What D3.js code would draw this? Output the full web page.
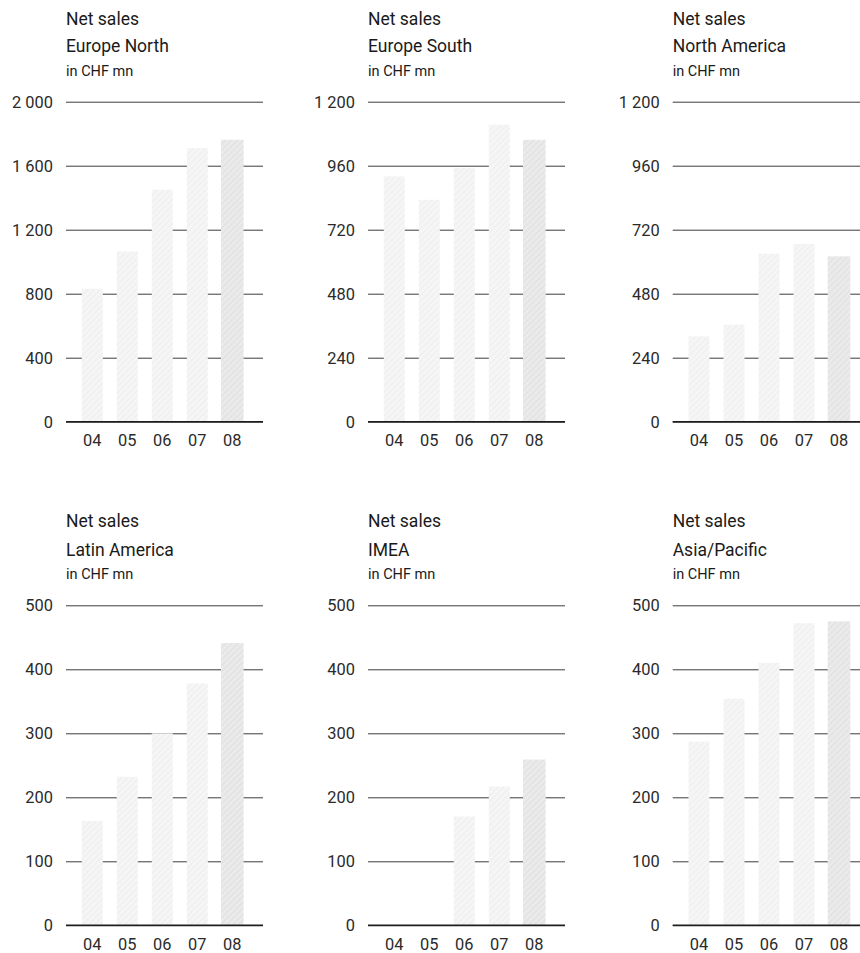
<!DOCTYPE html>
<html>
<head>
<meta charset="utf-8">
<script src="https://cdn.jsdelivr.net/npm/d3@7"></script>
<style>
  html, body { margin: 0; padding: 0; background: #fff; }
  svg { display: block; }
  text { font-family: Roboto, "Liberation Sans", Arial, sans-serif; }
  .title text { fill: #1a1a1a; }
  .tick text { fill: #2a2a2a; }
</style>
</head>
<body>
<svg id="chart" width="860" height="953"></svg>
<script>
// ---- data ----
const years = ["04", "05", "06", "07", "08"];
const regionNames = ["Europe North", "Europe South", "North America", "Latin America", "IMEA", "Asia/Pacific"];
const europeNorth  = [831, 1064, 1450, 1710, 1762];
const europeSouth  = [920, 832, 951, 1114, 1057];
const northAmerica = [320, 364, 630, 667, 620];
const latinAmerica = [163, 232, 300, 378, 441];
const imea         = [null, null, 170, 217, 259];
const asiaPacific  = [287, 354, 410, 472, 475];
const axisMax   = [2000, 1200, 1200, 500, 500, 500];
const tickStep  = [400, 240, 240, 100, 100, 100];
const titleLine1 = "Net sales";
const unitLabel = "in CHF mn";

const seriesList = [europeNorth, europeSouth, northAmerica, latinAmerica, imea, asiaPacific];

// ---- layout ----
const colX = [66, 368, 672.7];
const rowTop = [101.7, 605.3];
const plotW = 197, plotH = 320;

const svg = d3.select("#chart");
const defs = svg.append("defs");

function makePattern(id, base, line) {
  const p = defs.append("pattern").attr("id", id)
    .attr("patternUnits", "userSpaceOnUse").attr("width", 6).attr("height", 6);
  p.append("rect").attr("width", 6).attr("height", 6).attr("fill", base);
  p.append("path").attr("d", "M0,6 L6,0 M-1,1 L1,-1 M5,7 L7,5")
    .attr("stroke", line).attr("stroke-width", 1.2).attr("fill", "none");
  p.append("path").attr("d", "M0,0 L6,6").attr("stroke", line).attr("stroke-width", 0.5)
    .attr("stroke-opacity", 0.5).attr("fill", "none");
}
makePattern("texLight", "#f6f6f6", "#eeeeee");
makePattern("texDark", "#ebebeb", "#e0e0e0");

const fmt = d3.formatLocale({ decimal: ".", thousands: " ", grouping: [3], currency: ["", ""] }).format(",");
const FONT = "Roboto, 'Liberation Sans', Arial, sans-serif";

seriesList.forEach((values, i) => {
  const col = i % 3, row = Math.floor(i / 3);
  const x0 = colX[col], yTop = rowTop[row];
  const g = svg.append("g").attr("transform", `translate(${x0},${yTop})`);

  const x = d3.scaleBand().domain(years).range([8.8, 183.8]).paddingInner(0.4).paddingOuter(0.2);
  const y = d3.scaleLinear().domain([0, axisMax[i]]).range([plotH, 0]);
  const ticks = d3.range(0, axisMax[i] + 1, tickStep[i]);

  // titles
  const tg = g.append("g").attr("class", "title").attr("font-family", FONT);
  tg.append("text").attr("x", 0).attr("y", 25 - 101.7 - row * 1.5).attr("font-size", 17.5).text(titleLine1);
  tg.append("text").attr("x", 0).attr("y", 52 - 101.7).attr("font-size", 17.5).text(regionNames[i]);
  tg.append("text").attr("x", 0).attr("y", 75.5 - 101.7).attr("font-size", 14.5).text(unitLabel);

  // gridlines + tick labels via axis
  const yAxis = d3.axisLeft(y).tickValues(ticks).tickSize(-plotW).tickPadding(13).tickFormat(fmt);
  const ag = g.append("g").call(yAxis).attr("font-family", FONT);
  ag.select(".domain").remove();
  ag.selectAll(".tick line").attr("stroke", "#3c3c3c").attr("stroke-width", 1);
  ag.selectAll(".tick text").attr("font-size", 16.4).attr("x", -13).attr("dy", "0.34em");

  // bars
  g.append("g").selectAll("rect")
    .data(years.map((yr, k) => ({ yr, v: values[k], k })).filter(d => d.v != null))
    .join("rect")
    .attr("x", d => x(d.yr) - (d.k === 4 ? 0.8 : 0))
    .attr("width", d => x.bandwidth() + (d.k === 4 ? 1.6 : 0))
    .attr("y", d => y(d.v))
    .attr("height", d => plotH - y(d.v))
    .attr("fill", d => d.k === 4 ? "url(#texDark)" : "url(#texLight)");

  // baseline
  g.append("line").attr("x1", 0).attr("x2", plotW).attr("y1", plotH).attr("y2", plotH)
    .attr("stroke", "#1e1e1e").attr("stroke-width", 1.6);

  // x labels
  const xAxis = d3.axisBottom(x).tickSize(0).tickPadding(10);
  const xg = g.append("g").attr("transform", `translate(0,${plotH})`).call(xAxis).attr("font-family", FONT);
  xg.select(".domain").remove();
  xg.selectAll(".tick text").attr("font-size", 16.4).attr("dy", "0.9em");
});
</script>
</body>
</html>
